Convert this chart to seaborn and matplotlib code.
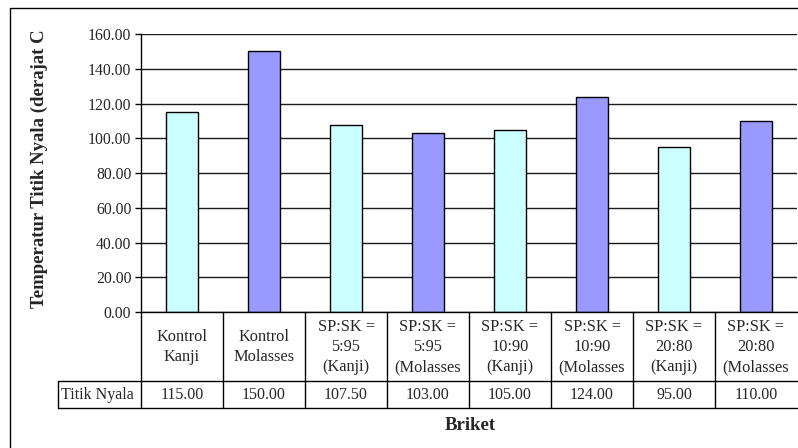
import matplotlib
matplotlib.use("Agg")
import matplotlib.pyplot as plt
import matplotlib.transforms as mtransforms
from matplotlib.patches import Rectangle
import seaborn as sns
import pandas as pd

# ---- data ----
categories = [
    "Kontrol\nKanji",
    "Kontrol\nMolasses",
    "SP:SK =\n5:95\n(Kanji)",
    "SP:SK =\n5:95\n(Molasses",
    "SP:SK =\n10:90\n(Kanji)",
    "SP:SK =\n10:90\n(Molasses",
    "SP:SK =\n20:80\n(Kanji)",
    "SP:SK =\n20:80\n(Molasses",
]
values = [115.00, 150.00, 107.50, 103.00, 105.00, 124.00, 95.00, 110.00]
bar_colors = ["#CCFFFF", "#9999FF", "#CCFFFF", "#9999FF",
              "#CCFFFF", "#9999FF", "#CCFFFF", "#9999FF"]
series_name = "Titik Nyala"
y_ticks = [0, 20, 40, 60, 80, 100, 120, 140, 160]
y_label = "Temperatur Titik Nyala (derajat C"
x_label = "Briket"

df = pd.DataFrame({"Briket": categories, series_name: values})

sns.set_style("white")
plt.rcParams["font.family"] = ["Liberation Serif", "DejaVu Serif"]

W, H = 798, 448
fig = plt.figure(figsize=(W / 100, H / 100), dpi=100)
fig.patch.set_facecolor("white")

# plot area in pixel units
left_px, right_px, top_px, bot_px = 141, 797, 34, 312
ax = fig.add_axes([left_px / W, (H - bot_px) / H,
                   (right_px - left_px) / W, (bot_px - top_px) / H])
ax_h = bot_px - top_px
ax_w = right_px - left_px

sns.barplot(data=df, x="Briket", y=series_name, hue="Briket",
            palette=bar_colors, saturation=1, width=0.4,
            edgecolor="black", linewidth=1, legend=False, ax=ax)

ax.set_xlim(-0.5, len(categories) - 0.5)
ax.set_ylim(y_ticks[0], y_ticks[-1])
ax.set_yticks(y_ticks)
ax.set_yticklabels([f"{t:.2f}" for t in y_ticks], fontsize=11.3)
ax.set_xticks([])
ax.set_xlabel("")
ax.set_ylabel("")
ax.set_axisbelow(True)
ax.yaxis.grid(True, color="#1a1a1a", linewidth=1)
ax.tick_params(axis="y", direction="out", length=4, width=1,
               color="black", pad=3, left=True)
for side in ("top", "right"):
    ax.spines[side].set_visible(False)
for side in ("left", "bottom"):
    ax.spines[side].set_color("black")
    ax.spines[side].set_linewidth(1)

# ---- data table beneath the axis ----
blend = mtransforms.blended_transform_factory(ax.transData, ax.transAxes)
row1_bot = -(381 - bot_px) / ax_h
row2_bot = -(408 - bot_px) / ax_h
row1_mid = -(347 - bot_px) / ax_h
row2_mid = -(395 - bot_px) / ax_h
label_left = -(left_px - 58) / ax_w

line_kw = dict(color="black", linewidth=1, clip_on=False)
for i in range(len(categories)):
    ax.plot([i - 0.5, i - 0.5], [0, row2_bot], transform=blend, **line_kw)
for yb in (row1_bot, row2_bot):
    ax.plot([label_left, 1.0], [yb, yb], transform=ax.transAxes, **line_kw)
ax.plot([label_left, label_left], [row1_bot, row2_bot],
        transform=ax.transAxes, **line_kw)

for i, (cat, val) in enumerate(zip(categories, values)):
    ax.text(i, row1_mid, cat, transform=blend, ha="center", va="center",
            fontsize=11.8, linespacing=1.36, clip_on=False)
    ax.text(i, row2_mid, f"{val:.2f}", transform=blend, ha="center",
            va="center", fontsize=11.5, clip_on=False)
ax.text(label_left + 3 / ax_w, row2_mid, series_name, transform=ax.transAxes,
        ha="left", va="center", fontsize=11.5, clip_on=False)

# ---- axis titles ----
fig.text(39 / W, 1 - 169 / H, y_label, rotation=90, ha="center",
         va="center", fontsize=13.5, fontweight="bold")
fig.text(470 / W, 1 - 425 / H, x_label, ha="center", va="center",
         fontsize=13.5, fontweight="bold")

# chart frame
fig.add_artist(Rectangle((10 / W, -0.2), 1.2, (H - 8) / H + 0.2,
                         transform=fig.transFigure, fill=False,
                         edgecolor="black", linewidth=1))

fig.savefig("out.png", dpi=100, facecolor="white")
